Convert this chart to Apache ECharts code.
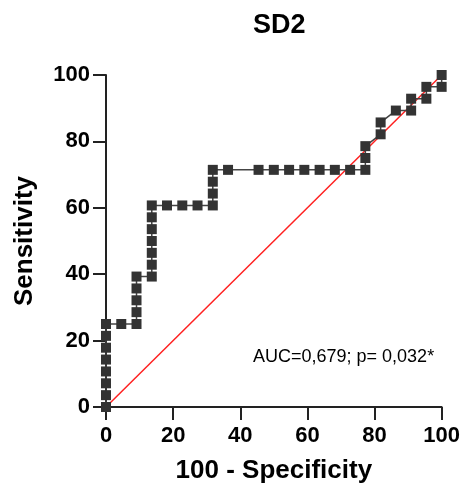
<!DOCTYPE html>
<html>
<head>
<meta charset="utf-8">
<script src="https://cdn.jsdelivr.net/npm/echarts@6/dist/echarts.min.js"></script>
<style>html,body{margin:0;padding:0;background:#fff;}#c{width:463px;height:497px;}</style>
</head>
<body>
<div id="c"></div>
<script>
var specificity100 = [0,0,0,0,0,0,0,0,4.55,9.09,9.09,9.09,9.09,9.09,13.64,13.64,13.64,13.64,13.64,13.64,13.64,18.18,22.73,27.27,31.82,31.82,31.82,31.82,36.36,45.45,50,54.55,59.09,63.64,68.18,72.73,77.27,77.27,77.27,81.82,81.82,86.36,90.91,90.91,95.45,95.45,100,100];
var sensitivity = [0,3.57,7.14,10.71,14.29,17.86,21.43,25,25,25,28.57,32.14,35.71,39.29,39.29,42.86,46.43,50,53.57,57.14,60.71,60.71,60.71,60.71,60.71,64.29,67.86,71.43,71.43,71.43,71.43,71.43,71.43,71.43,71.43,71.43,71.43,75,78.57,82.14,85.71,89.29,89.29,92.86,92.86,96.43,96.43,100];
var refX = [0,100];
var refY = [0,100];
var titleText = 'SD2';
var xName = '100 - Specificity';
var yName = 'Sensitivity';
var annotation = 'AUC=0,679; p= 0,032*';

var roc = specificity100.map(function(x,i){return [x, sensitivity[i]];});
var ref = refX.map(function(x,i){return [x, refY[i]];});

var chart = echarts.init(document.getElementById('c'));
var axisCommon = {
  type:'value', min:0, max:100, interval:20,
  axisLine:{show:true, lineStyle:{color:'#222', width:2}},
  axisTick:{show:true, length:13, lineStyle:{color:'#222', width:2}},
  splitLine:{show:false},
  nameLocation:'middle',
  nameTextStyle:{fontFamily:'Liberation Sans', fontWeight:'bold', fontSize:26, color:'#000'},
  axisLabel:{fontFamily:'Liberation Sans', fontWeight:'bold', fontSize:22, color:'#000'}
};
chart.setOption({
  animation:false,
  title:{text:titleText, left:248, top:7, textStyle:{fontFamily:'Liberation Sans', fontWeight:'bold', fontSize:27, color:'#000'}},
  grid:{left:106, right:21, top:75, bottom:90},
  xAxis: Object.assign({}, axisCommon, {name:xName, nameGap:51, axisLabel:Object.assign({}, axisCommon.axisLabel, {margin:18})}),
  yAxis: Object.assign({}, axisCommon, {name:yName, nameGap:68, axisLabel:Object.assign({}, axisCommon.axisLabel, {margin:16})}),
  graphic:[{type:'text', left:253, top:348, style:{text:annotation, fontFamily:'Liberation Sans', fontSize:18, fill:'#000'}}],
  series:[
    {type:'line', data:ref, symbol:'none', lineStyle:{color:'#ff2020', width:1.5}, z:1, clip:false},
    {type:'line', data:roc, symbol:'rect', symbolSize:10, showAllSymbol:true, clip:false,
     itemStyle:{color:'#333'}, lineStyle:{color:'#444', width:1.5}, z:2}
  ]
});
</script>
</body>
</html>
